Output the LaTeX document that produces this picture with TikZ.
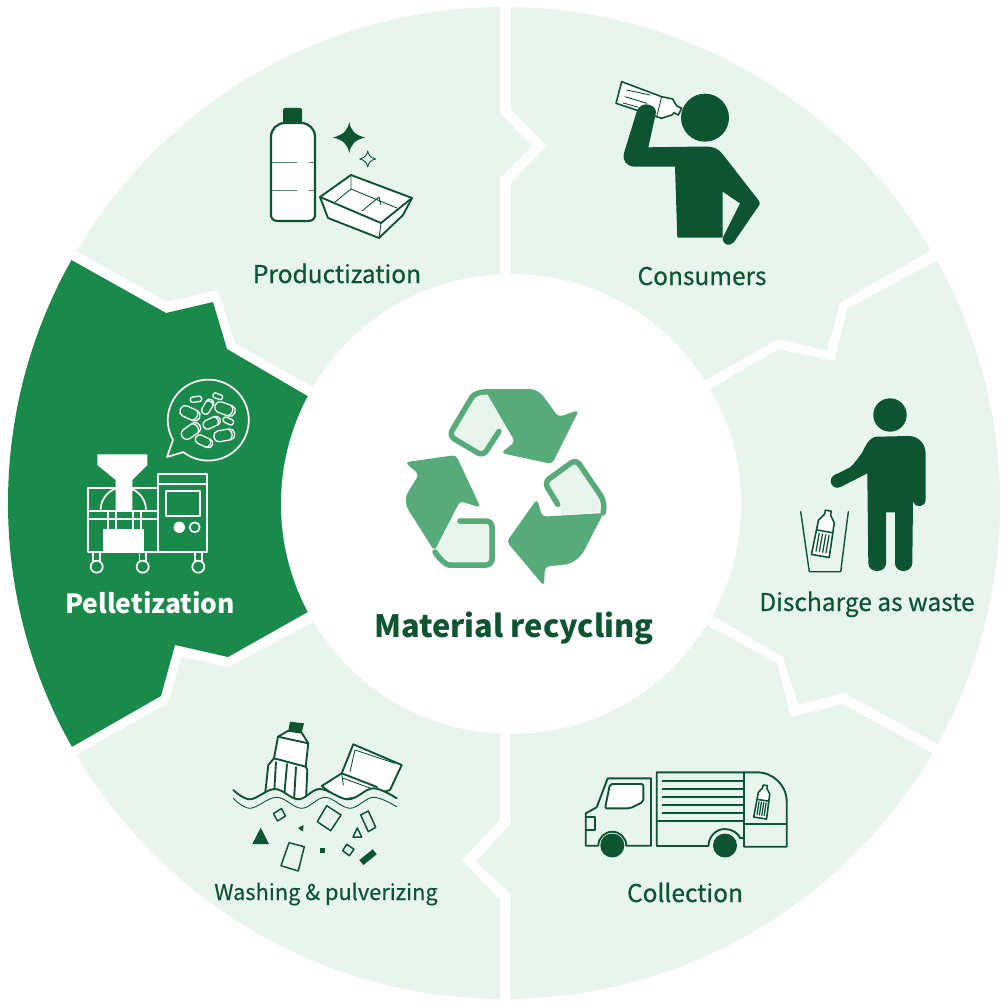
\documentclass[tikz,border=0pt]{standalone}
\usepackage{fontspec}
\setmainfont{Noto Sans CJK JP}[FakeBold=0.4]
\newfontfamily\titlefont{Noto Sans CJK JP}
\definecolor{palegreen}{HTML}{E8F5ED}
\definecolor{pelletgreen}{HTML}{1A8A4A}
\definecolor{darkgreen}{HTML}{0D5530}
\definecolor{recyclegreen}{HTML}{57AB79}
\tikzset{
  iconline/.style={draw=darkgreen, line width=1.9pt, line join=round, line cap=round},
  thinline/.style={draw=darkgreen, line width=0.9pt, line join=round, line cap=round},
  pelletline/.style={draw=white, line width=1.7pt, line join=round},
  recycleline/.style={draw=recyclegreen, line width=5.5pt, line cap=round, rounded corners=6pt},
  steplabel/.style={anchor=base, text=darkgreen, font=\fontsize{24.5}{28}\selectfont},
}
% Capsule in the speech bubble: x, y, angle, half length, half width.
\newcommand{\pelletcapsule}[5]{
  \begin{scope}[shift={(#1,#2)}, rotate=#3]
    \draw[pelletline, line width=1.3pt, rounded corners=#5*0.9] (-#4,-#5) rectangle (#4,#5);
  \end{scope}
}
% Same with the end line of the cylinder.
\newcommand{\pelletroll}[5]{
  \begin{scope}[shift={(#1,#2)}, rotate=#3]
    \draw[pelletline, line width=1.3pt, rounded corners=#5*0.9] (-#4,-#5) rectangle (#4,#5);
    \draw[pelletline, line width=1.3pt] (#4-#5,-#5) .. controls (#4-#5*0.3,-#5*0.4) and (#4-#5*0.3,#5*0.4) .. (#4-#5,#5);
  \end{scope}
}
% Ribbed bottle: x, y, angle, scale.
\newcommand{\ribbottle}[4]{
  \begin{scope}[shift={(#1,#2)}, rotate=#3, scale=#4]
    \draw[iconline, line width=1.6pt, fill=white] (-3,-23) -- (3,-23) -- (3,-19) -- (8,-12) -- (9,23) -- (-9,23) -- (-8,-12) -- (-3,-19) -- cycle;
    \draw[iconline, line width=1.6pt] (-8.3,-2) -- (8.3,-2);
    \draw[iconline, line width=1.3pt] (-5,1) -- (-5,19) (-1.7,1) -- (-1.7,19) (1.7,1) -- (1.7,19) (5,1) -- (5,19);
  \end{scope}
}

\begin{document}
\begin{tikzpicture}[x=1pt, y=-1pt]
  \useasboundingbox (0,0) rectangle (1008,1008);
  % Six pieces of the ring, cut by the outer circle.
  \begin{scope}
    \clip (504,503) circle (496);
    \fill[palegreen] (500,-20) -- (500,113) -- (532,146) -- (500,178) -- (500,400) -- (400,436) -- (235,343) -- (218,290) -- (167,302) -- (78,252) -- (0,208) -- (0,-20) -- cycle;
    \fill[palegreen] (511,-20) -- (511,109) -- (546,146) -- (511,183) -- (511,400) -- (620,429) -- (778,339) -- (827,351) -- (840,303) -- (928,252) -- (1008,206) -- (1008,-20) -- cycle;
    \fill[palegreen] (1008,222) -- (936,261) -- (847,309) -- (834,361) -- (779,349) -- (620,441) -- (620,561) -- (783,657) -- (798,705) -- (844,693) -- (936,743) -- (1008,782) -- cycle;
    \fill[palegreen] (620,578) -- (777,663) -- (791,717) -- (843,704) -- (932,753) -- (1008,795) -- (1008,1030) -- (510,1030) -- (510,893) -- (476,862) -- (510,824) -- (510,620) -- cycle;
    \fill[palegreen] (500,620) -- (500,820) -- (462,860) -- (500,900) -- (500,1030) -- (0,1030) -- (0,798) -- (168,703) -- (182,657) -- (228,667) -- (400,576) -- cycle;
    \fill[pelletgreen] (0,220) -- (166,313) -- (213,302) -- (227,349) -- (400,450) -- (400,560) -- (228,657) -- (175,645) -- (161,696) -- (0,788) -- cycle;
  \end{scope}
  \fill[white] (511,504) circle (230);

  % Recycling mark, top arm.
  \fill[palegreen] (486.7,393) -- (505,425) -- (485,455) -- (451.7,436.7) -- (470,403) -- cycle;
  \draw[recycleline] (490,391.7) .. controls (480,391.7) and (474,394) .. (469,402) -- (449,435.7) -- (483,456) -- (499,431.5);
  \fill[recyclegreen, rounded corners=4pt] (486.7,389) -- (526,389) .. controls (535,389) and (541,393) .. (546,400) -- (558.5,417) -- (579,410) -- (552,464) -- (501,453) -- (515,441.7) -- (486.7,393) -- cycle;
  % Left arm.
  \fill[palegreen] (459.7,521) -- (490,521) -- (490,563) -- (451,563) -- (434.3,551) -- (449.7,521) -- cycle;
  \draw[recycleline] (460,521) -- (492,521) -- (492,565) -- (455,565) .. controls (447,565) and (440,560) .. (435,552);
  \fill[recyclegreen, rounded corners=4pt] (405,462.3) -- (456,455) -- (480.7,507.7) -- (460,501) -- (434.3,551) -- (411,514) .. controls (405,505) and (405,497) .. (410,489) -- (419,474.3) -- cycle;
  % Right arm.
  \fill[palegreen] (546.7,481.7) -- (576.7,463.3) -- (598.3,496.7) -- (600,511.7) -- (561.7,515) -- (558.3,505) -- cycle;
  \draw[recycleline] (557.7,504.3) -- (544.3,482.3) -- (576,459.3) -- (597,490) .. controls (603,499) and (605,505) .. (603,513);
  \fill[recyclegreen, rounded corners=4pt] (506.7,541.7) -- (537,499) -- (542.3,516.7) -- (603.5,513) -- (587,545) .. controls (581,557) and (573,564) .. (560,565) -- (545,566.7) -- (544,586) -- cycle;

  % Bottle, stars and tray.
  \draw[iconline, fill=white, line width=2.2pt] (271,215) -- (271,137) .. controls (271,129) and (277,123) .. (285,123) -- (301,123) .. controls (309,123) and (315,129) .. (315,137) -- (315,215) .. controls (315,219) and (312,221) .. (308,221) -- (278,221) .. controls (274,221) and (271,219) .. (271,215) -- cycle;
  \fill[darkgreen, rounded corners=2pt] (283,108) rectangle (302,124);
  \draw[thinline, draw=darkgreen!70] (272,162) -- (297,162) (309,162) -- (314,162) (272,190) -- (297,190) (309,190) -- (314,190);
  \fill[darkgreen] (349.3,122) .. controls (351,131) and (355,135) .. (365,137.5) .. controls (355,140) and (351,144) .. (349.3,153) .. controls (347.5,144) and (343,140) .. (333,137.5) .. controls (343,135) and (347.5,131) .. (349.3,122) -- cycle;
  \draw[thinline] (367.7,151) .. controls (368.5,155.5) and (371,158) .. (375.7,159) .. controls (371,160) and (368.5,162.5) .. (367.7,167) .. controls (366.9,162.5) and (364.4,160) .. (359.7,159) .. controls (364.4,158) and (366.9,155.5) .. (367.7,151) -- cycle;
  \draw[iconline, fill=white] (320,197) -- (328,218) -- (379,238) -- (403,215) -- (412,198) -- (351,175) -- cycle;
  \draw[iconline] (320,197) -- (381,223) -- (412,198);
  \draw[thinline] (381,223) -- (379,238) (351,175) -- (351,189) -- (335,202) (351,189) -- (397,208) (379,197) -- (362,211) (379,197) -- (381,205);
  \node[steplabel] (productization) at (337,283) {Productization};

  % Person drinking.
  \draw[iconline, line width=1.6pt, fill=white] (621.7,81.7) -- (616,103.3) -- (656.7,116.7) -- (661.7,118.3) -- (671.7,115) -- (674,112.7) -- (678.3,115) -- (681.7,108.3) -- (676.7,106) -- (672.7,99) -- (661.7,96.7) -- cycle;
  \draw[thinline] (661.7,96.7) -- (656.7,116.7) (626.7,90) -- (650,95) (625,96.7) -- (646.7,103.3) (623.3,103) -- (638.3,107.3);
  \fill[darkgreen] (705,117.7) circle (24);
  \fill[darkgreen] (648.3,147.3) -- (705,146.5) .. controls (715,146.5) and (719,149.5) .. (723.3,155) -- (758.3,200) .. controls (760,202) and (760,204) .. (759.3,205) -- (736,239) .. controls (732,246) and (727,246) .. (724.5,243) .. controls (722,240) and (722.5,238) .. (723.3,236.7) -- (740,203.3) -- (722.7,191.7) -- (722.7,237.7) -- (677.3,237.7) -- (675,166.7) -- (635,166.7) .. controls (627,166.7) and (622,161) .. (624,153) -- (636.7,111.7) .. controls (639,105) and (645,103) .. (650,105) .. controls (655,107) and (656.5,110) .. (655.7,114) -- cycle;
  \node[steplabel] (consumers) at (702,285) {Consumers};

  % Person throwing away a bottle.
  \fill[darkgreen] (890,415) circle (16.7);
  \fill[darkgreen] (876.7,436.7) -- (908.3,436) .. controls (918,436) and (925,443) .. (925.5,452) -- (925.7,500) .. controls (925.7,504) and (922,506) .. (919.3,506) .. controls (916,506) and (913.3,504) .. (913,501) -- (912.3,563.3) .. controls (912,568) and (908,571) .. (903.5,571) .. controls (899,571) and (895,568) .. (895,563.3) -- (895,512.3) -- (886,512.3) -- (886,563.3) .. controls (886,568) and (882,571) .. (877,571) .. controls (872,571) and (868.5,568) .. (868.3,563.3) -- (867.3,473.3) -- (841.7,486.5) .. controls (836,490) and (831,486) .. (830.7,481.7) .. controls (830.5,477) and (834,474.5) .. (838.3,473.3) -- (850,467.3) .. controls (855,463) and (858,458) .. (861.7,453.3) .. controls (865,447) and (869,437) .. (876.7,436.7) -- cycle;
  \draw[iconline, line width=1.4pt] (800.7,511.7) -- (809.3,571.7) -- (840.7,571.7) -- (848.3,511.7);
  \ribbottle{824.3}{533.3}{-10}{1}
  \node[steplabel] (discharge) at (867,611) {Discharge as waste};

  % Truck.
  \draw[iconline, fill=palegreen] (585.7,813.3) -- (596.7,807.3) -- (607.7,778.3) -- (651,778.3) -- (651,845.7) -- (626.3,845.7) arc[start angle=0, end angle=-180, radius=14] -- (585.7,845.7) -- cycle;
  \draw[iconline] (585.7,816.7) -- (595,816.7) -- (595,830) -- (585.7,830);
  \draw[iconline, fill=white, rounded corners=2pt] (610,784) -- (643.3,784) -- (643.3,801.7) -- (630,808.3) -- (605,808.3) -- cycle;
  \draw[iconline] (656.7,772.3) -- (756.7,772.3) .. controls (773,772.3) and (786.7,785) .. (786.7,801.7) -- (786.7,846.7) -- (744,846.7) -- (744,838.3) -- (740,838) .. controls (738,833) and (732,829) .. (725,829) .. controls (716,829) and (709,836) .. (708.3,846) -- (656.7,846) -- cycle;
  \draw[iconline] (744,772.3) -- (744,838) (656.7,821) -- (744,821) (744,824.3) -- (786.7,824.3);
  \draw[iconline, line width=2pt, line cap=butt] (661.7,781) -- (744,781) (661.7,789.3) -- (744,789.3) (661.7,797.3) -- (744,797.3) (661.7,805) -- (744,805) (661.7,812.7) -- (744,812.7);
  \fill[darkgreen] (612.3,845.5) circle (12);
  \fill[darkgreen] (725,845.5) circle (12);
  \ribbottle{762.7}{801.7}{-9}{0.72}
  \node[steplabel] (collection) at (685,902) {Collection};

  % Bottle and tray in the water.
  \draw[iconline, fill=white] (288.3,730.7) -- (278,736.7) -- (274,758.3) -- (268.3,765) -- (265,795) -- (306,800) -- (307.3,770) -- (305.7,766.7) -- (308.3,743.3) -- (301.7,732.7) -- cycle;
  \draw[iconline] (274,758.3) -- (305.7,766.7) (278,736.7) -- (308.3,743.3) (276,762) -- (274,795) (287,764) -- (284,798) (296,767) -- (294,800);
  \fill[darkgreen] (290,721.7) -- (304,723.3) -- (301.7,732.7) -- (288.3,730.7) -- cycle;
  \draw[iconline, fill=white] (353.3,744.3) -- (401.7,765) -- (390,790) -- (372,795) -- (340,800) -- (321.7,786) -- (341.7,773.3) -- cycle;
  \draw[iconline] (341.7,773.3) -- (377,787);
  \draw[thinline] (355,750) -- (395,763.3) (355,750) -- (350,771.7) (341.7,773.3) -- (343.3,785) (343.3,778.3) -- (370,788);
  \fill[palegreen] plot[smooth, tension=0.6] coordinates {(233.3,790) (250,799.3) (275,789) (298.3,799.3) (320,789) (348.3,799.3) (373.3,788.3) (396.7,798.3)} -- (396.7,812) -- (233.3,812) -- cycle;
  \draw[iconline] plot[smooth, tension=0.6] coordinates {(233.3,790) (250,799.3) (275,789) (298.3,799.3) (320,789) (348.3,799.3) (373.3,788.3) (396.7,798.3)};
  \draw[thinline] plot[smooth, tension=0.6] coordinates {(233.3,798.3) (250,808.3) (276.7,797.3) (301.7,808.3) (325,797.3) (350,808.3) (373.3,797.3) (396.7,806.7)};
  % Flakes below the water.
  \draw[iconline, line width=1.5pt] (273.5,813.5) -- (281.5,808.5) -- (285.5,816) -- (277.5,821) -- cycle;
  \draw[iconline, line width=1.5pt] (326.7,805.7) -- (341,815) -- (330.7,830.7) -- (317.3,821.7) -- cycle;
  \draw[iconline, line width=1.5pt] (360.7,815) -- (368.3,811) -- (375.7,827.3) -- (368.3,831.7) -- cycle;
  \draw[iconline, line width=1.5pt] (357.3,828) -- (353,837) -- (361.7,837) -- cycle;
  \draw[iconline, line width=1.5pt] (289,842.7) -- (304.3,846.7) -- (298.3,871) -- (281,865.7) -- cycle;
  \draw[iconline, line width=1.5pt] (346.7,844.3) -- (354,849.3) -- (349.3,855.7) -- (342.7,850.7) -- cycle;
  \fill[darkgreen] (303.5,825) -- (298,828) -- (303,831.5) -- cycle;
  \fill[darkgreen] (260.7,827.7) -- (252.3,844) -- (269,844) -- cycle;
  \fill[darkgreen] (320,848) rectangle (324.6,852.6);
  \fill[darkgreen] (372.7,849.3) -- (376.7,854.3) -- (363.3,865) -- (359.3,860) -- cycle;
  \node[steplabel, font=\fontsize{21.8}{26}\selectfont] (washing) at (326,900) {Washing \& pulverizing};

  % Bubble with pellets.
  \draw[pelletline, fill=pelletgreen] (173,440) arc[start angle=150.6, end angle=487.8, radius=40.5] -- (167,457) -- cycle;
  \pelletcapsule{196}{399.3}{8}{5.7}{2.7}
  \pelletcapsule{217.7}{396.3}{-20}{5}{2.4}
  \pelletroll{190}{413.3}{-25}{10.5}{5.5}
  \pelletroll{207.7}{406.7}{60}{8}{4}
  \pelletroll{225}{409}{-20}{10.5}{5.5}
  \pelletroll{211.7}{422.7}{25}{9}{4.5}
  \pelletcapsule{228.3}{421}{-25}{5.5}{2.8}
  \pelletroll{191}{431}{35}{10.5}{5.5}
  \pelletroll{224.3}{435.3}{10}{10.5}{5.5}
  \pelletroll{204}{441.3}{-25}{9}{4.5}
  % Machine.
  \draw[pelletline] (88.3,488.3) rectangle (158.3,551.7);
  \draw[pelletline] (88.3,510.7) -- (158.3,510.7) (88.3,519.3) -- (158.3,519.3);
  \draw[pelletline] (107.7,510.7) -- (107.7,530) (116,510.7) -- (116,530) (132.7,510.7) -- (132.7,530) (141,510.7) -- (141,530);
  \draw[pelletline] (100.6,510) arc[start angle=180, end angle=360, radius=22.7];
  \fill[white] (103.3,529.3) rectangle (144,551.7);
  \fill[white] (97.3,454.3) -- (147.3,454.3) -- (147.3,465) -- (132.3,480) -- (132.3,510) -- (115.7,510) -- (115.7,480) -- (97.3,465) -- cycle;
  \draw[pelletline] (158.3,474.3) rectangle (206.7,551.7);
  \draw[pelletline] (158.3,484) -- (206.7,484);
  \draw[pelletline] (166,491) rectangle (200,516);
  \fill[white] (179.3,527.3) circle (5.7);
  \draw[pelletline] (194.7,527.3) circle (5);
  \draw[pelletline] (96.7,566.7) circle (6) (142.7,566.7) circle (6) (198.3,566.7) circle (6);
  \draw[pelletline] (93.3,551.7) -- (93.3,561) (100,551.7) -- (100,561) (139.4,551.7) -- (139.4,561) (146,551.7) -- (146,561) (195,551.7) -- (195,561) (201.7,551.7) -- (201.7,561);
  \node[anchor=base, text=white, font=\titlefont\bfseries\fontsize{26.4}{30}\selectfont] (pelletization) at (150,613) {Pelletization};

  \node[anchor=base, text=darkgreen, font=\titlefont\bfseries\fontsize{30.8}{36}\selectfont] (material) at (514,637) {Material recycling};
\end{tikzpicture}
\end{document}
